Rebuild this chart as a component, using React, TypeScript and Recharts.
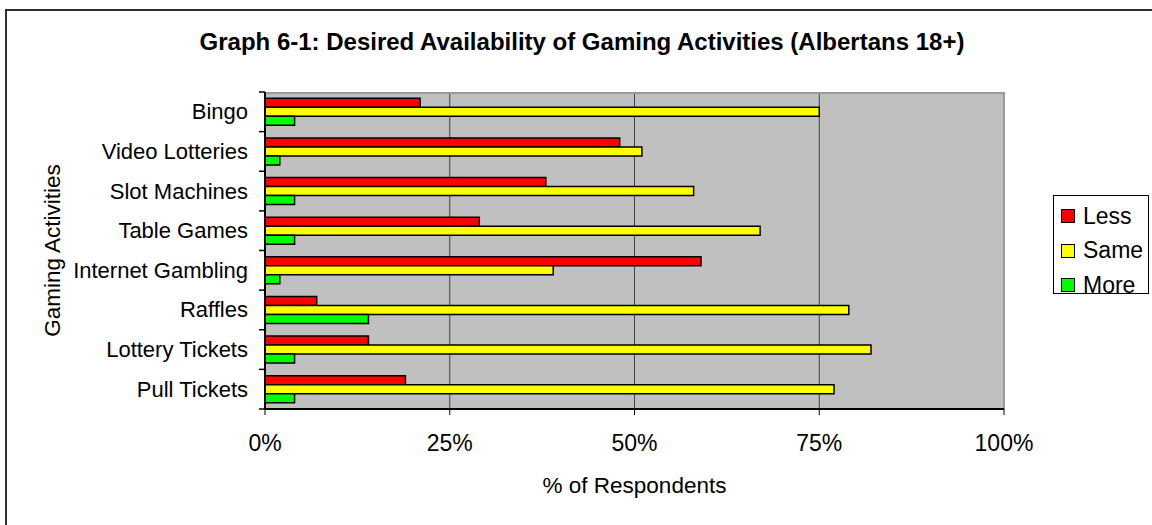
import React from 'react';
import { BarChart, Bar, XAxis, YAxis, CartesianGrid, Legend } from 'recharts';

const categories = ['Bingo', 'Video Lotteries', 'Slot Machines', 'Table Games', 'Internet Gambling', 'Raffles', 'Lottery Tickets', 'Pull Tickets'];
const lessValues = [21, 48, 38, 29, 59, 7, 14, 19];
const sameValues = [75, 51, 58, 67, 39, 79, 82, 77];
const moreValues = [4, 2, 4, 4, 2, 14, 4, 4];
const xTicks = [0, 25, 50, 75, 100];

const seriesNames = ['Less', 'Same', 'More'];
const seriesColors = ['#ff0000', '#ffff00', '#00ff00'];

const data = categories.map((c, i) => ({
  name: c,
  Less: lessValues[i],
  Same: sameValues[i],
  More: moreValues[i],
}));

const FONT = '"Liberation Sans", Arial, sans-serif';
const TICK_MARGIN = 11;
const TICK_SIZE = 6;

const CategoryTick = (props: any) => {
  const { x, y, payload, index, height } = props;
  const half =
    payload && typeof payload.offset === 'number' && payload.offset > 0
      ? payload.offset
      : (height || 0) / categories.length / 2;
  const lx2 = x + TICK_MARGIN + TICK_SIZE;
  const lx1 = x + TICK_MARGIN;
  return (
    <g>
      <line x1={lx1} x2={lx2} y1={y - half} y2={y - half} stroke="#000" strokeWidth={1.5} />
      {index === categories.length - 1 && (
        <line x1={lx1} x2={lx2} y1={y + half} y2={y + half} stroke="#000" strokeWidth={1.5} />
      )}
      <text
        x={x}
        y={y}
        textAnchor="end"
        dominantBaseline="central"
        fontSize={22}
        fontFamily={FONT}
        fill="#000"
      >
        {payload.value}
      </text>
    </g>
  );
};

const LegendBox = () => (
  <div
    style={{
      boxSizing: 'border-box',
      width: 96,
      height: 99,
      border: '1px solid #000',
      background: '#fff',
      paddingTop: 3,
      fontFamily: FONT,
      fontSize: 23,
      color: '#000',
    }}
  >
    {seriesNames.map((n, i) => (
      <div key={n} style={{ display: 'flex', alignItems: 'center', height: 34.5, paddingLeft: 7 }}>
        <span
          style={{
            display: 'inline-block',
            boxSizing: 'border-box',
            width: 14,
            height: 14,
            background: seriesColors[i],
            border: '1.5px solid #000',
            marginRight: 8,
          }}
        />
        <span>{n}</span>
      </div>
    ))}
  </div>
);

export default function App() {
  return (
    <div
      style={{
        position: 'fixed',
        left: 0,
        top: 0,
        width: 1152,
        height: 525,
        overflow: 'hidden',
        background: '#fff',
      }}
    >
      <div
        style={{
          position: 'absolute',
          left: 5,
          top: 9,
          width: 1300,
          height: 700,
          borderLeft: '2px solid #303030',
          borderTop: '2px solid #303030',
        }}
      />
      <div
        style={{
          position: 'absolute',
          left: 0,
          top: 29,
          width: 1164,
          textAlign: 'center',
          fontFamily: FONT,
          fontWeight: 'bold',
          fontSize: 24,
          color: '#000',
          lineHeight: '26px',
        }}
      >
        Graph 6-1: Desired Availability of Gaming Activities (Albertans 18+)
      </div>
      <div style={{ position: 'absolute', left: 0, top: 0 }}>
        <BarChart
          width={1152}
          height={525}
          data={data}
          layout="vertical"
          margin={{ top: 92, right: 148, bottom: 0, left: 0 }}
          barCategoryGap="16%"
          barGap={0}
        >
          <CartesianGrid
            horizontal={false}
            vertical={true}
            stroke="#404040"
            strokeWidth={1}
            fill="#c0c0c0"
            fillOpacity={1}
          />
          <CartesianGrid
            horizontal={true}
            vertical={true}
            stroke="#9a9a9a"
            strokeWidth={2}
            horizontalCoordinatesGenerator={({ offset }: any) => [offset.top + 1]}
            verticalCoordinatesGenerator={({ offset }: any) => [offset.left + offset.width]}
          />
          <YAxis
            type="category"
            dataKey="name"
            width={265}
            tickLine={false}
            tickSize={TICK_SIZE}
            tickMargin={TICK_MARGIN}
            axisLine={{ stroke: '#000', strokeWidth: 2 }}
            tick={<CategoryTick />}
            interval={0}
            label={{
              content: ({ viewBox }: any) => (
                <text
                  x={viewBox.x + 52}
                  y={viewBox.y + viewBox.height / 2}
                  transform={`rotate(-90, ${viewBox.x + 52}, ${viewBox.y + viewBox.height / 2})`}
                  textAnchor="middle"
                  dominantBaseline="central"
                  fontSize={22.5}
                  fontFamily={FONT}
                  fill="#000"
                >
                  Gaming Activities
                </text>
              ),
            }}
          />
          <XAxis
            type="number"
            domain={[0, 100]}
            ticks={xTicks}
            tickFormatter={(v: number) => `${v}%`}
            height={116}
            tickSize={6}
            tickMargin={20}
            axisLine={{ stroke: '#000', strokeWidth: 2 }}
            tickLine={{ stroke: '#000', strokeWidth: 1 }}
            tick={{ fill: '#000', fontSize: 23, fontFamily: FONT }}
            label={{
              content: ({ viewBox }: any) => (
                <text
                  x={viewBox.x + viewBox.width / 2}
                  y={viewBox.y + 76}
                  textAnchor="middle"
                  dominantBaseline="central"
                  fontSize={22.5}
                  fontFamily={FONT}
                  fill="#000"
                >
                  % of Respondents
                </text>
              ),
            }}
          />
          <Legend
            layout="vertical"
            align="center"
            verticalAlign="middle"
            content={() => <LegendBox />}
            wrapperStyle={{ left: 1053, top: 195, width: 96, height: 99 }}
          />
          {seriesNames.map((n, i) => (
            <Bar
              key={n}
              dataKey={n}
              fill={seriesColors[i]}
              stroke="#000"
              strokeWidth={1.5}
              isAnimationActive={false}
            />
          ))}
        </BarChart>
      </div>
    </div>
  );
}
